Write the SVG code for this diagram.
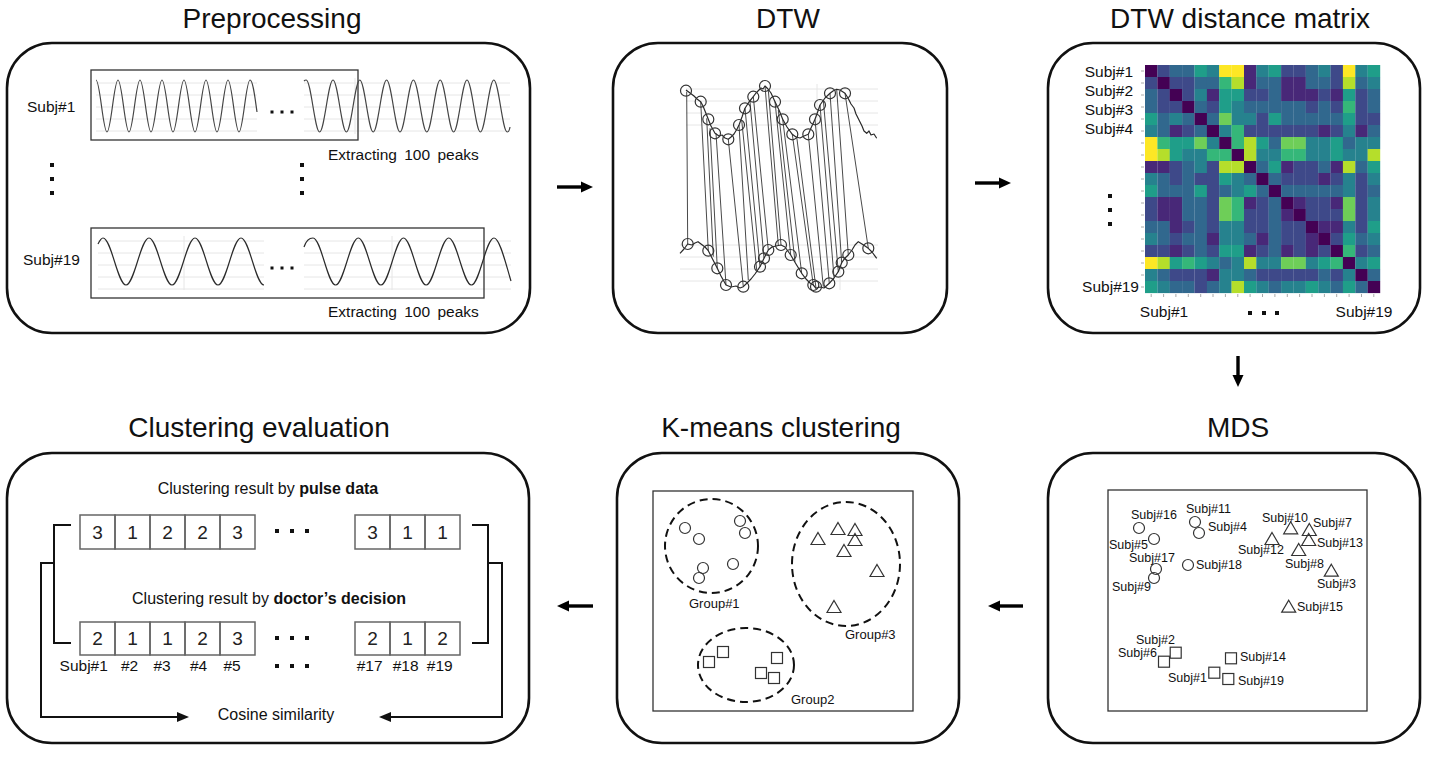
<svg xmlns="http://www.w3.org/2000/svg" xmlns:xlink="http://www.w3.org/1999/xlink" width="1429" height="758" viewBox="0 0 1429 758">
<style>
.t{font-family:"Liberation Sans",Arial,Helvetica,sans-serif;fill:#111}
.ttl{font-size:28px;text-anchor:middle}
.l15{font-size:15.5px}
.l16{font-size:16px}
.l13{font-size:13px}
.l12{font-size:12.5px}
.mid{text-anchor:middle}
.end{text-anchor:end}
.dig{font-size:19px;text-anchor:middle;fill:#222}
.panel{fill:#fff;stroke:#111;stroke-width:2.6}
.wave{fill:none;stroke:#2a2a2a;stroke-width:1.2;stroke-linejoin:round}
.wv1{stroke:#444}
.grid{fill:none;stroke:#e6e6e6;stroke-width:1}
.frame{fill:none;stroke:#333;stroke-width:1.3}
.mk{fill:none;stroke:#333;stroke-width:1.2}
.dash{fill:none;stroke:#111;stroke-width:2;stroke-dasharray:8 5}
.box{fill:none;stroke:#666;stroke-width:1.5}
.arr{stroke:#000;stroke-width:3.4}
.conn{fill:none;stroke:#111;stroke-width:2}
.dl{stroke:#4a4a4a;stroke-width:1}
.tick{fill:none;stroke:#aaa;stroke-width:1}
.c0{fill:#440154}.c1{fill:#482878}.c2{fill:#3e4989}.c3{fill:#31688e}.c4{fill:#26828e}
.c5{fill:#1f9e89}.c6{fill:#35b779}.c7{fill:#6ece58}.c8{fill:#b5de2b}.c9{fill:#fde725}
</style>
<defs>
<marker id="ah" markerUnits="userSpaceOnUse" markerWidth="13" markerHeight="12" refX="2" refY="6" orient="auto"><path d="M0,0.5 L12,6 L0,11.5 Z" fill="#000"/></marker>
<marker id="ah2" markerUnits="userSpaceOnUse" markerWidth="13" markerHeight="11" refX="2" refY="5" orient="auto"><path d="M0,0 L12,5 L0,10 Z" fill="#111"/></marker>
<rect id="k" width="12.5" height="12.1"/>
<circle id="ci" r="5.5"/>
<path id="tr" d="M0,-6.5 L7,5.5 L-7,5.5 Z"/>
<rect id="sq" x="-5.5" y="-5.5" width="11" height="11"/>
</defs>
<rect width="1429" height="758" fill="#fff"/>

<g id="preprocessing">
<rect class="panel" x="7" y="43" width="523" height="290" rx="45"/>
<text class="t ttl" x="272" y="28">Preprocessing</text>
<path class="grid" d="M96,83H257M96,95H257M96,107H257M96,119H257M96,131H257M304,83H510M304,95H510M304,107H510M304,119H510M304,131H510M355,78V134"/>
<path class="grid" d="M98,241H264M98,253H264M98,265H264M98,277H264M98,289H264M304,241H511M304,253H511M304,265H511M304,277H511M304,289H511M184,236V290M392,236V290"/>
<rect class="frame" x="91" y="70" width="267" height="70"/>
<rect class="frame" x="91" y="228" width="393" height="70"/>
<path class="wave wv1" d="M96,80 C100,80 103,132 107,132 S114,80 118,80 S125,132 129,132 S136,80 140,80 S147,132 151,132 S158,80 162,80 S169,132 173,132 S180,80 184,80 S191,132 195,132 S202,80 206,80 S213,132 217,132 S224,80 228,80 S235,132 239,132 S246,80 250,80 C253,80 255,98 257,112"/>
<path class="wave wv1" d="M304,81 C305,80 305.5,80 306.2,80 C311,80 314.8,132 319.6,132 S328.2,80 333,80 S341.6,132 346.4,132 S355,80 359.8,80 S368.4,132 373.2,132 S381.8,80 386.6,80 S395.2,132 400,132 S408.6,80 413.4,80 S422,132 426.8,132 S435.4,80 440.2,80 S448.8,132 453.6,132 S462.2,80 467,80 S475.6,132 480.4,132 S489,80 493.8,80 S502.4,132 507.2,132 C508.5,132 509.5,130 510,127"/>
<path class="wave" d="M98,244 C100,240 101.5,238 103,238 C111.3,238 117.7,285 126,285 S140.7,238 149,238 S163.7,285 172,285 S186.7,238 195,238 S209.7,285 218,285 S232.7,238 241,238 S255.7,285 264,285"/>
<path class="wave" d="M304,247 C306,241 309,238 313,238 C321.1,238 327.5,285 335.6,285 S350.2,238 358.3,238 S372.8,285 380.9,285 S395.4,238 403.5,238 S418,285 426.1,285 S440.6,238 448.7,238 S463.3,285 471.4,285 S485.9,238 494,238 C500,238 506,265 511,281"/>
<g fill="#111">
<rect x="270.5" y="110.5" width="3" height="3"/><rect x="280.5" y="110.5" width="3" height="3"/><rect x="290.5" y="110.5" width="3" height="3"/>
<rect x="270.5" y="266.5" width="3" height="3"/><rect x="280.5" y="266.5" width="3" height="3"/><rect x="290.5" y="266.5" width="3" height="3"/>
<rect x="50" y="163" width="4" height="4"/><rect x="50" y="177" width="4" height="4"/><rect x="50" y="191" width="4" height="4"/>
<rect x="300" y="163" width="4" height="4"/><rect x="300" y="177" width="4" height="4"/><rect x="300" y="191" width="4" height="4"/>
</g>
<text class="t l15" x="27" y="112">Subj#1</text>
<text class="t l15" x="23" y="265">Subj#19</text>
<text class="t l15" x="328" y="160" word-spacing="3">Extracting 100 peaks</text>
<text class="t l15" x="328" y="317" word-spacing="3">Extracting 100 peaks</text>
</g>

<g id="dtw">
<rect class="panel" x="613" y="43" width="334" height="290" rx="45"/>
<text class="t ttl" x="788" y="28">DTW</text>
<path class="grid" d="M686,89H878M686,101H878M686,113H878M686,125H878M680,245H878M680,257H878M680,269H878M680,281H878M817,84V140M840,240V290"/>
<g class="dl">
<line x1="686.7" y1="91.7" x2="687.7" y2="244"/>
<line x1="700.7" y1="101.7" x2="708.3" y2="250.7"/>
<line x1="706.7" y1="118.3" x2="713.3" y2="256.7"/>
<line x1="710" y1="128.3" x2="717.3" y2="268.3"/>
<line x1="716" y1="133.3" x2="726" y2="285"/>
<line x1="728.3" y1="139.3" x2="743.3" y2="286.7"/>
<line x1="739" y1="125" x2="748.3" y2="280"/>
<line x1="741.7" y1="120" x2="756.7" y2="270"/>
<line x1="745" y1="108.3" x2="760" y2="266.7"/>
<line x1="750" y1="101.7" x2="764" y2="258.3"/>
<line x1="753.3" y1="96.7" x2="768.3" y2="250"/>
<line x1="765" y1="86" x2="778.3" y2="245"/>
<line x1="768.3" y1="90" x2="781" y2="245"/>
<line x1="775" y1="101.7" x2="790.7" y2="255"/>
<line x1="778.3" y1="110" x2="795" y2="261.7"/>
<line x1="782.7" y1="119.3" x2="801.7" y2="273.3"/>
<line x1="792.3" y1="134.3" x2="813.3" y2="285"/>
<line x1="796.7" y1="136.7" x2="816" y2="288.3"/>
<line x1="808.3" y1="134.3" x2="823.3" y2="286.7"/>
<line x1="815" y1="119.3" x2="829.3" y2="283.3"/>
<line x1="820" y1="105" x2="834" y2="277.3"/>
<line x1="823.3" y1="100" x2="838.3" y2="271.7"/>
<line x1="830" y1="93.3" x2="841.7" y2="262.7"/>
<line x1="836.7" y1="89.3" x2="848.3" y2="255"/>
<line x1="845" y1="93.3" x2="868.3" y2="248.3"/>
</g>
<polyline class="wave" points="686,90 690,93 694,96 697,99 700.7,101.7 703,106 705,111 708.3,119.3 711,126 715,133.3 719,136 722,135 725,138 728.3,139.3 731,137 734,134 737,129 739,125 742,117 745,108.3 749,102 753.3,96.7 756,93 759,90 761,88 763,89 765,86 768,89 771,93 775,101.7 779,110 782.7,119.3 787,127 792.3,134.3 796,137 800,138 804,136 808.3,134.3 811,128 815,119.3 818,111 820,105 825,98 830,93.3 833,91 836.7,89.3 840,90 845,93.3 848,98 851,104 854,108 856,114 859,120 862,126 864,131 866.7,133.3 869,131 871,135 874,134 876.7,138.3"/>
<polyline class="wave" points="680,253.3 684,249 687.7,244 692,245 695,243 698,241.7 701,244 705,247 708.3,250.7 712,258 717.3,268.3 721,276 726,285 731,287 736,286 740,288 743.3,286.7 747,283 751,279 755,274 760,266.7 764,258.3 768.3,250 772,247 776,246 781,245 785,247 790.7,255 796,264 801.7,273.3 806,279 810,283 813.3,285 816,288.3 820,287 824,288 829.3,283.3 834,278 838.3,271.7 841.7,262.7 845,258 848.3,255 852,250 855,245 858.3,241.7 862,244 865,246 868.3,248.3 872,252 876.7,258.3"/>
<g class="mk">
<use href="#ci" x="686" y="90.7"/><use href="#ci" x="700.7" y="101.7"/><use href="#ci" x="708.3" y="119.3"/><use href="#ci" x="715" y="133.3"/><use href="#ci" x="728.3" y="139.3"/><use href="#ci" x="739" y="125"/><use href="#ci" x="745" y="108.3"/><use href="#ci" x="753.3" y="96.7"/><use href="#ci" x="765" y="86"/><use href="#ci" x="775" y="101.7"/><use href="#ci" x="782.7" y="119.3"/><use href="#ci" x="792.3" y="134.3"/><use href="#ci" x="808.3" y="134.3"/><use href="#ci" x="815" y="119.3"/><use href="#ci" x="820" y="105"/><use href="#ci" x="830" y="93.3"/><use href="#ci" x="845" y="93.3"/>
<use href="#ci" x="687.7" y="244"/><use href="#ci" x="708.3" y="250.7"/><use href="#ci" x="717.3" y="268.3"/><use href="#ci" x="726" y="285"/><use href="#ci" x="743.3" y="286.7"/><use href="#ci" x="760" y="266.7"/><use href="#ci" x="764" y="258.3"/><use href="#ci" x="768.3" y="250"/><use href="#ci" x="781" y="245"/><use href="#ci" x="790.7" y="255"/><use href="#ci" x="801.7" y="273.3"/><use href="#ci" x="813.3" y="285"/><use href="#ci" x="816" y="286.7"/><use href="#ci" x="829.3" y="283.3"/><use href="#ci" x="838.3" y="271.7"/><use href="#ci" x="841.7" y="262.7"/><use href="#ci" x="848.3" y="255"/><use href="#ci" x="868.3" y="248.3"/>
</g>
</g>

<g id="dtw-matrix">
<rect class="panel" x="1048" y="43" width="372" height="290" rx="45"/>
<text class="t ttl" x="1240" y="28">DTW distance matrix</text>
<g transform="translate(1145,65)">
<g><use href="#k" x="0" class="c0"/><use href="#k" x="12.4" class="c2"/><use href="#k" x="24.7" class="c3"/><use href="#k" x="37.1" class="c3"/><use href="#k" x="49.5" class="c5"/><use href="#k" x="61.9" class="c4"/><use href="#k" x="74.2" class="c9"/><use href="#k" x="86.6" class="c9"/><use href="#k" x="99" class="c1"/><use href="#k" x="111.3" class="c4"/><use href="#k" x="123.7" class="c5"/><use href="#k" x="136.1" class="c2"/><use href="#k" x="148.4" class="c2"/><use href="#k" x="160.8" class="c3"/><use href="#k" x="173.2" class="c4"/><use href="#k" x="185.6" class="c2"/><use href="#k" x="197.9" class="c9"/><use href="#k" x="210.3" class="c4"/><use href="#k" x="222.7" class="c5"/></g>
<g transform="translate(0,12)"><use href="#k" x="0" class="c2"/><use href="#k" x="12.4" class="c0"/><use href="#k" x="24.7" class="c2"/><use href="#k" x="37.1" class="c2"/><use href="#k" x="49.5" class="c3"/><use href="#k" x="61.9" class="c3"/><use href="#k" x="74.2" class="c6"/><use href="#k" x="86.6" class="c8"/><use href="#k" x="99" class="c1"/><use href="#k" x="111.3" class="c3"/><use href="#k" x="123.7" class="c3"/><use href="#k" x="136.1" class="c1"/><use href="#k" x="148.4" class="c1"/><use href="#k" x="160.8" class="c3"/><use href="#k" x="173.2" class="c3"/><use href="#k" x="185.6" class="c2"/><use href="#k" x="197.9" class="c8"/><use href="#k" x="210.3" class="c3"/><use href="#k" x="222.7" class="c4"/></g>
<g transform="translate(0,24)"><use href="#k" x="0" class="c3"/><use href="#k" x="12.4" class="c2"/><use href="#k" x="24.7" class="c0"/><use href="#k" x="37.1" class="c2"/><use href="#k" x="49.5" class="c4"/><use href="#k" x="61.9" class="c1"/><use href="#k" x="74.2" class="c5"/><use href="#k" x="86.6" class="c5"/><use href="#k" x="99" class="c2"/><use href="#k" x="111.3" class="c2"/><use href="#k" x="123.7" class="c3"/><use href="#k" x="136.1" class="c1"/><use href="#k" x="148.4" class="c1"/><use href="#k" x="160.8" class="c1"/><use href="#k" x="173.2" class="c2"/><use href="#k" x="185.6" class="c1"/><use href="#k" x="197.9" class="c5"/><use href="#k" x="210.3" class="c2"/><use href="#k" x="222.7" class="c3"/></g>
<g transform="translate(0,36)"><use href="#k" x="0" class="c3"/><use href="#k" x="12.4" class="c2"/><use href="#k" x="24.7" class="c2"/><use href="#k" x="37.1" class="c0"/><use href="#k" x="49.5" class="c3"/><use href="#k" x="61.9" class="c2"/><use href="#k" x="74.2" class="c5"/><use href="#k" x="86.6" class="c4"/><use href="#k" x="99" class="c3"/><use href="#k" x="111.3" class="c3"/><use href="#k" x="123.7" class="c3"/><use href="#k" x="136.1" class="c3"/><use href="#k" x="148.4" class="c3"/><use href="#k" x="160.8" class="c2"/><use href="#k" x="173.2" class="c3"/><use href="#k" x="185.6" class="c2"/><use href="#k" x="197.9" class="c6"/><use href="#k" x="210.3" class="c2"/><use href="#k" x="222.7" class="c3"/></g>
<g transform="translate(0,48)"><use href="#k" x="0" class="c5"/><use href="#k" x="12.4" class="c3"/><use href="#k" x="24.7" class="c4"/><use href="#k" x="37.1" class="c3"/><use href="#k" x="49.5" class="c0"/><use href="#k" x="61.9" class="c3"/><use href="#k" x="74.2" class="c7"/><use href="#k" x="86.6" class="c4"/><use href="#k" x="99" class="c4"/><use href="#k" x="111.3" class="c2"/><use href="#k" x="123.7" class="c5"/><use href="#k" x="136.1" class="c3"/><use href="#k" x="148.4" class="c3"/><use href="#k" x="160.8" class="c3"/><use href="#k" x="173.2" class="c3"/><use href="#k" x="185.6" class="c3"/><use href="#k" x="197.9" class="c5"/><use href="#k" x="210.3" class="c2"/><use href="#k" x="222.7" class="c2"/></g>
<g transform="translate(0,60)"><use href="#k" x="0" class="c4"/><use href="#k" x="12.4" class="c3"/><use href="#k" x="24.7" class="c1"/><use href="#k" x="37.1" class="c2"/><use href="#k" x="49.5" class="c3"/><use href="#k" x="61.9" class="c0"/><use href="#k" x="74.2" class="c4"/><use href="#k" x="86.6" class="c6"/><use href="#k" x="99" class="c2"/><use href="#k" x="111.3" class="c2"/><use href="#k" x="123.7" class="c2"/><use href="#k" x="136.1" class="c2"/><use href="#k" x="148.4" class="c2"/><use href="#k" x="160.8" class="c2"/><use href="#k" x="173.2" class="c1"/><use href="#k" x="185.6" class="c2"/><use href="#k" x="197.9" class="c4"/><use href="#k" x="210.3" class="c1"/><use href="#k" x="222.7" class="c3"/></g>
<g transform="translate(0,72)"><use href="#k" x="0" class="c9"/><use href="#k" x="12.4" class="c6"/><use href="#k" x="24.7" class="c5"/><use href="#k" x="37.1" class="c5"/><use href="#k" x="49.5" class="c7"/><use href="#k" x="61.9" class="c4"/><use href="#k" x="74.2" class="c0"/><use href="#k" x="86.6" class="c6"/><use href="#k" x="99" class="c8"/><use href="#k" x="111.3" class="c5"/><use href="#k" x="123.7" class="c3"/><use href="#k" x="136.1" class="c7"/><use href="#k" x="148.4" class="c7"/><use href="#k" x="160.8" class="c4"/><use href="#k" x="173.2" class="c4"/><use href="#k" x="185.6" class="c5"/><use href="#k" x="197.9" class="c3"/><use href="#k" x="210.3" class="c4"/><use href="#k" x="222.7" class="c4"/></g>
<g transform="translate(0,84)"><use href="#k" x="0" class="c9"/><use href="#k" x="12.4" class="c8"/><use href="#k" x="24.7" class="c5"/><use href="#k" x="37.1" class="c4"/><use href="#k" x="49.5" class="c4"/><use href="#k" x="61.9" class="c6"/><use href="#k" x="74.2" class="c6"/><use href="#k" x="86.6" class="c0"/><use href="#k" x="99" class="c8"/><use href="#k" x="111.3" class="c4"/><use href="#k" x="123.7" class="c4"/><use href="#k" x="136.1" class="c6"/><use href="#k" x="148.4" class="c6"/><use href="#k" x="160.8" class="c4"/><use href="#k" x="173.2" class="c4"/><use href="#k" x="185.6" class="c5"/><use href="#k" x="197.9" class="c4"/><use href="#k" x="210.3" class="c4"/><use href="#k" x="222.7" class="c8"/></g>
<g transform="translate(0,96)"><use href="#k" x="0" class="c1"/><use href="#k" x="12.4" class="c1"/><use href="#k" x="24.7" class="c2"/><use href="#k" x="37.1" class="c3"/><use href="#k" x="49.5" class="c4"/><use href="#k" x="61.9" class="c2"/><use href="#k" x="74.2" class="c8"/><use href="#k" x="86.6" class="c8"/><use href="#k" x="99" class="c0"/><use href="#k" x="111.3" class="c3"/><use href="#k" x="123.7" class="c5"/><use href="#k" x="136.1" class="c1"/><use href="#k" x="148.4" class="c2"/><use href="#k" x="160.8" class="c2"/><use href="#k" x="173.2" class="c3"/><use href="#k" x="185.6" class="c1"/><use href="#k" x="197.9" class="c8"/><use href="#k" x="210.3" class="c3"/><use href="#k" x="222.7" class="c5"/></g>
<g transform="translate(0,108)"><use href="#k" x="0" class="c4"/><use href="#k" x="12.4" class="c3"/><use href="#k" x="24.7" class="c2"/><use href="#k" x="37.1" class="c3"/><use href="#k" x="49.5" class="c2"/><use href="#k" x="61.9" class="c2"/><use href="#k" x="74.2" class="c5"/><use href="#k" x="86.6" class="c4"/><use href="#k" x="99" class="c3"/><use href="#k" x="111.3" class="c0"/><use href="#k" x="123.7" class="c3"/><use href="#k" x="136.1" class="c2"/><use href="#k" x="148.4" class="c2"/><use href="#k" x="160.8" class="c2"/><use href="#k" x="173.2" class="c1"/><use href="#k" x="185.6" class="c2"/><use href="#k" x="197.9" class="c4"/><use href="#k" x="210.3" class="c2"/><use href="#k" x="222.7" class="c4"/></g>
<g transform="translate(0,120)"><use href="#k" x="0" class="c5"/><use href="#k" x="12.4" class="c3"/><use href="#k" x="24.7" class="c3"/><use href="#k" x="37.1" class="c3"/><use href="#k" x="49.5" class="c5"/><use href="#k" x="61.9" class="c2"/><use href="#k" x="74.2" class="c3"/><use href="#k" x="86.6" class="c4"/><use href="#k" x="99" class="c5"/><use href="#k" x="111.3" class="c3"/><use href="#k" x="123.7" class="c0"/><use href="#k" x="136.1" class="c3"/><use href="#k" x="148.4" class="c3"/><use href="#k" x="160.8" class="c3"/><use href="#k" x="173.2" class="c3"/><use href="#k" x="185.6" class="c3"/><use href="#k" x="197.9" class="c4"/><use href="#k" x="210.3" class="c2"/><use href="#k" x="222.7" class="c3"/></g>
<g transform="translate(0,132)"><use href="#k" x="0" class="c2"/><use href="#k" x="12.4" class="c1"/><use href="#k" x="24.7" class="c1"/><use href="#k" x="37.1" class="c3"/><use href="#k" x="49.5" class="c3"/><use href="#k" x="61.9" class="c2"/><use href="#k" x="74.2" class="c7"/><use href="#k" x="86.6" class="c6"/><use href="#k" x="99" class="c1"/><use href="#k" x="111.3" class="c2"/><use href="#k" x="123.7" class="c3"/><use href="#k" x="136.1" class="c0"/><use href="#k" x="148.4" class="c1"/><use href="#k" x="160.8" class="c2"/><use href="#k" x="173.2" class="c2"/><use href="#k" x="185.6" class="c1"/><use href="#k" x="197.9" class="c7"/><use href="#k" x="210.3" class="c2"/><use href="#k" x="222.7" class="c4"/></g>
<g transform="translate(0,144)"><use href="#k" x="0" class="c2"/><use href="#k" x="12.4" class="c1"/><use href="#k" x="24.7" class="c1"/><use href="#k" x="37.1" class="c3"/><use href="#k" x="49.5" class="c3"/><use href="#k" x="61.9" class="c2"/><use href="#k" x="74.2" class="c7"/><use href="#k" x="86.6" class="c6"/><use href="#k" x="99" class="c2"/><use href="#k" x="111.3" class="c2"/><use href="#k" x="123.7" class="c3"/><use href="#k" x="136.1" class="c1"/><use href="#k" x="148.4" class="c0"/><use href="#k" x="160.8" class="c2"/><use href="#k" x="173.2" class="c2"/><use href="#k" x="185.6" class="c2"/><use href="#k" x="197.9" class="c7"/><use href="#k" x="210.3" class="c2"/><use href="#k" x="222.7" class="c4"/></g>
<g transform="translate(0,156)"><use href="#k" x="0" class="c3"/><use href="#k" x="12.4" class="c3"/><use href="#k" x="24.7" class="c1"/><use href="#k" x="37.1" class="c2"/><use href="#k" x="49.5" class="c3"/><use href="#k" x="61.9" class="c2"/><use href="#k" x="74.2" class="c4"/><use href="#k" x="86.6" class="c4"/><use href="#k" x="99" class="c2"/><use href="#k" x="111.3" class="c2"/><use href="#k" x="123.7" class="c3"/><use href="#k" x="136.1" class="c2"/><use href="#k" x="148.4" class="c2"/><use href="#k" x="160.8" class="c0"/><use href="#k" x="173.2" class="c1"/><use href="#k" x="185.6" class="c1"/><use href="#k" x="197.9" class="c4"/><use href="#k" x="210.3" class="c2"/><use href="#k" x="222.7" class="c5"/></g>
<g transform="translate(0,168)"><use href="#k" x="0" class="c4"/><use href="#k" x="12.4" class="c3"/><use href="#k" x="24.7" class="c2"/><use href="#k" x="37.1" class="c3"/><use href="#k" x="49.5" class="c3"/><use href="#k" x="61.9" class="c1"/><use href="#k" x="74.2" class="c4"/><use href="#k" x="86.6" class="c4"/><use href="#k" x="99" class="c3"/><use href="#k" x="111.3" class="c1"/><use href="#k" x="123.7" class="c3"/><use href="#k" x="136.1" class="c2"/><use href="#k" x="148.4" class="c2"/><use href="#k" x="160.8" class="c1"/><use href="#k" x="173.2" class="c0"/><use href="#k" x="185.6" class="c2"/><use href="#k" x="197.9" class="c5"/><use href="#k" x="210.3" class="c3"/><use href="#k" x="222.7" class="c4"/></g>
<g transform="translate(0,180)"><use href="#k" x="0" class="c2"/><use href="#k" x="12.4" class="c2"/><use href="#k" x="24.7" class="c1"/><use href="#k" x="37.1" class="c2"/><use href="#k" x="49.5" class="c3"/><use href="#k" x="61.9" class="c2"/><use href="#k" x="74.2" class="c5"/><use href="#k" x="86.6" class="c5"/><use href="#k" x="99" class="c1"/><use href="#k" x="111.3" class="c2"/><use href="#k" x="123.7" class="c3"/><use href="#k" x="136.1" class="c1"/><use href="#k" x="148.4" class="c2"/><use href="#k" x="160.8" class="c1"/><use href="#k" x="173.2" class="c2"/><use href="#k" x="185.6" class="c0"/><use href="#k" x="197.9" class="c6"/><use href="#k" x="210.3" class="c2"/><use href="#k" x="222.7" class="c3"/></g>
<g transform="translate(0,192)"><use href="#k" x="0" class="c9"/><use href="#k" x="12.4" class="c8"/><use href="#k" x="24.7" class="c5"/><use href="#k" x="37.1" class="c6"/><use href="#k" x="49.5" class="c5"/><use href="#k" x="61.9" class="c4"/><use href="#k" x="74.2" class="c3"/><use href="#k" x="86.6" class="c4"/><use href="#k" x="99" class="c8"/><use href="#k" x="111.3" class="c4"/><use href="#k" x="123.7" class="c4"/><use href="#k" x="136.1" class="c7"/><use href="#k" x="148.4" class="c7"/><use href="#k" x="160.8" class="c4"/><use href="#k" x="173.2" class="c5"/><use href="#k" x="185.6" class="c6"/><use href="#k" x="197.9" class="c0"/><use href="#k" x="210.3" class="c4"/><use href="#k" x="222.7" class="c5"/></g>
<g transform="translate(0,204)"><use href="#k" x="0" class="c4"/><use href="#k" x="12.4" class="c3"/><use href="#k" x="24.7" class="c2"/><use href="#k" x="37.1" class="c2"/><use href="#k" x="49.5" class="c2"/><use href="#k" x="61.9" class="c1"/><use href="#k" x="74.2" class="c4"/><use href="#k" x="86.6" class="c4"/><use href="#k" x="99" class="c3"/><use href="#k" x="111.3" class="c2"/><use href="#k" x="123.7" class="c2"/><use href="#k" x="136.1" class="c2"/><use href="#k" x="148.4" class="c2"/><use href="#k" x="160.8" class="c2"/><use href="#k" x="173.2" class="c3"/><use href="#k" x="185.6" class="c2"/><use href="#k" x="197.9" class="c4"/><use href="#k" x="210.3" class="c0"/><use href="#k" x="222.7" class="c3"/></g>
<g transform="translate(0,216)"><use href="#k" x="0" class="c5"/><use href="#k" x="12.4" class="c4"/><use href="#k" x="24.7" class="c3"/><use href="#k" x="37.1" class="c3"/><use href="#k" x="49.5" class="c2"/><use href="#k" x="61.9" class="c3"/><use href="#k" x="74.2" class="c4"/><use href="#k" x="86.6" class="c8"/><use href="#k" x="99" class="c5"/><use href="#k" x="111.3" class="c4"/><use href="#k" x="123.7" class="c3"/><use href="#k" x="136.1" class="c4"/><use href="#k" x="148.4" class="c4"/><use href="#k" x="160.8" class="c5"/><use href="#k" x="173.2" class="c4"/><use href="#k" x="185.6" class="c3"/><use href="#k" x="197.9" class="c5"/><use href="#k" x="210.3" class="c3"/><use href="#k" x="222.7" class="c0"/></g>
</g>
<path class="tick" d="M1151.2,294v3M1163.6,294v3M1175.9,294v3M1188.3,294v3M1200.7,294v3M1213,294v3M1225.4,294v3M1237.8,294v3M1250.1,294v3M1262.5,294v3M1274.9,294v3M1287.3,294v3M1299.6,294v3M1312,294v3M1324.4,294v3M1336.7,294v3M1349.1,294v3M1361.5,294v3M1373.8,294v3"/>
<path class="tick" d="M1141,71h3M1141,83h3M1141,95h3M1141,107h3M1141,119h3M1141,131h3M1141,143h3M1141,155h3M1141,167h3M1141,179h3M1141,191h3M1141,203h3M1141,215h3M1141,227h3M1141,239h3M1141,251h3M1141,263h3M1141,275h3M1141,287h3"/>
<text class="t l15 end" x="1133" y="77">Subj#1</text>
<text class="t l15 end" x="1133" y="96">Subj#2</text>
<text class="t l15 end" x="1133" y="115">Subj#3</text>
<text class="t l15 end" x="1133" y="134">Subj#4</text>
<text class="t l15 end" x="1139" y="292">Subj#19</text>
<text class="t l15 mid" x="1164" y="317">Subj#1</text>
<text class="t l15 mid" x="1364" y="317">Subj#19</text>
<g fill="#111">
<rect x="1108" y="194" width="4" height="4"/><rect x="1108" y="208" width="4" height="4"/><rect x="1108" y="222" width="4" height="4"/>
<rect x="1248" y="311" width="4" height="4"/><rect x="1262" y="311" width="4" height="4"/><rect x="1275" y="311" width="4" height="4"/>
</g>
</g>

<g id="mds">
<rect class="panel" x="1048" y="453" width="372" height="290" rx="45"/>
<text class="t ttl" x="1238" y="437">MDS</text>
<rect class="frame" x="1108" y="490" width="259" height="221"/>
<g class="mk">
<use href="#ci" x="1139" y="528"/><use href="#ci" x="1154" y="539"/><use href="#ci" x="1195" y="522"/><use href="#ci" x="1199" y="533"/><use href="#ci" x="1156" y="569"/><use href="#ci" x="1154" y="578"/><use href="#ci" x="1188" y="565"/>
<use href="#tr" x="1290.7" y="528.3"/><use href="#tr" x="1309.3" y="530"/><use href="#tr" x="1308.7" y="540"/><use href="#tr" x="1272" y="539"/><use href="#tr" x="1298.7" y="550"/><use href="#tr" x="1331.3" y="570.7"/><use href="#tr" x="1288.7" y="606.7"/>
<use href="#sq" x="1175.7" y="652.7"/><use href="#sq" x="1164" y="661.7"/><use href="#sq" x="1231" y="658.3"/><use href="#sq" x="1214.3" y="672.7"/><use href="#sq" x="1228.3" y="679"/>
</g>
<g class="t l12">
<text x="1131" y="519">Subj#16</text>
<text x="1109" y="549">Subj#5</text>
<text x="1186" y="513">Subj#11</text>
<text x="1208" y="531">Subj#4</text>
<text x="1129" y="562">Subj#17</text>
<text x="1112" y="591">Subj#9</text>
<text x="1196" y="569">Subj#18</text>
<text x="1262" y="522">Subj#10</text>
<text x="1313" y="527">Subj#7</text>
<text x="1317" y="547">Subj#13</text>
<text x="1238" y="554">Subj#12</text>
<text x="1285" y="568">Subj#8</text>
<text x="1317" y="588">Subj#3</text>
<text x="1297" y="611">Subj#15</text>
<text x="1136" y="644">Subj#2</text>
<text x="1118" y="657">Subj#6</text>
<text x="1240" y="661">Subj#14</text>
<text x="1168" y="682">Subj#1</text>
<text x="1238" y="685">Subj#19</text>
</g>
</g>

<g id="kmeans">
<rect class="panel" x="617" y="453" width="342" height="290" rx="45"/>
<text class="t ttl" x="781" y="437">K-means clustering</text>
<rect class="frame" x="653" y="491" width="260" height="220"/>
<ellipse class="dash" cx="711.5" cy="546" rx="46.5" ry="47"/>
<ellipse class="dash" cx="846" cy="564" rx="54" ry="62"/>
<ellipse class="dash" cx="746" cy="665" rx="48" ry="37"/>
<g class="mk">
<use href="#ci" x="685" y="528"/><use href="#ci" x="699" y="539"/><use href="#ci" x="740" y="521"/><use href="#ci" x="745" y="533"/><use href="#ci" x="703" y="568"/><use href="#ci" x="699" y="578"/><use href="#ci" x="733" y="564"/>
<use href="#tr" x="818" y="539"/><use href="#tr" x="838" y="529"/><use href="#tr" x="855" y="530"/><use href="#tr" x="855" y="540"/><use href="#tr" x="844" y="551"/><use href="#tr" x="877" y="571"/><use href="#tr" x="834" y="607"/>
<use href="#sq" x="723" y="652"/><use href="#sq" x="709" y="662"/><use href="#sq" x="777" y="658"/><use href="#sq" x="761" y="673"/><use href="#sq" x="774" y="678"/>
</g>
<text class="t l13" x="689" y="608">Group#1</text>
<text class="t l13" x="845" y="639">Group#3</text>
<text class="t l13" x="791" y="704">Group2</text>
</g>

<g id="evaluation">
<rect class="panel" x="7" y="453" width="522" height="290" rx="45"/>
<text class="t ttl" x="259" y="437">Clustering evaluation</text>
<text class="t l16 mid" x="268" y="494">Clustering result by <tspan font-weight="bold">pulse data</tspan></text>
<text class="t l16 mid" x="269" y="604">Clustering result by <tspan font-weight="bold">doctor’s decision</tspan></text>
<g class="box">
<rect x="80" y="515" width="35" height="34"/><rect x="115" y="515" width="35" height="34"/><rect x="150" y="515" width="35" height="34"/><rect x="185" y="515" width="35" height="34"/><rect x="220" y="515" width="35" height="34"/>
<rect x="355" y="515" width="35" height="34"/><rect x="390" y="515" width="35" height="34"/><rect x="425" y="515" width="35" height="34"/>
<rect x="80" y="622" width="35" height="33"/><rect x="115" y="622" width="35" height="33"/><rect x="150" y="622" width="35" height="33"/><rect x="185" y="622" width="35" height="33"/><rect x="220" y="622" width="35" height="33"/>
<rect x="355" y="622" width="35" height="33"/><rect x="390" y="622" width="35" height="33"/><rect x="425" y="622" width="35" height="33"/>
</g>
<g class="t dig">
<text x="97.5" y="539">3</text><text x="132.5" y="539">1</text><text x="167.5" y="539">2</text><text x="202.5" y="539">2</text><text x="237.5" y="539">3</text>
<text x="372.5" y="539">3</text><text x="407.5" y="539">1</text><text x="442.5" y="539">1</text>
<text x="97.5" y="645">2</text><text x="132.5" y="645">1</text><text x="167.5" y="645">1</text><text x="202.5" y="645">2</text><text x="237.5" y="645">3</text>
<text x="372.5" y="645">2</text><text x="407.5" y="645">1</text><text x="442.5" y="645">2</text>
</g>
<g class="t l15 mid">
<text x="83.7" y="671">Subj#1</text><text x="129.6" y="671">#2</text><text x="162" y="671">#3</text><text x="198.5" y="671">#4</text><text x="232" y="671">#5</text>
<text x="369.7" y="671">#17</text><text x="405.6" y="671">#18</text><text x="439.8" y="671">#19</text>
</g>
<g fill="#111">
<rect x="275" y="529" width="4" height="4"/><rect x="290" y="529" width="4" height="4"/><rect x="305" y="529" width="4" height="4"/>
<rect x="275" y="636" width="4" height="4"/><rect x="290" y="636" width="4" height="4"/><rect x="305" y="636" width="4" height="4"/>
<rect x="275" y="664" width="4" height="4"/><rect x="290" y="664" width="4" height="4"/><rect x="305" y="664" width="4" height="4"/>
</g>
<polyline class="conn" points="71,525 54,525 54,643 71,643"/>
<polyline class="conn" points="472,525 488,525 488,643 472,643"/>
<polyline class="conn" points="54,563 41,563 41,717 179,717" marker-end="url(#ah2)"/>
<polyline class="conn" points="488,563 502,563 502,717 389,717" marker-end="url(#ah2)"/>
<text class="t l16 mid" x="276" y="720">Cosine similarity</text>
</g>

<g id="connectors">
<line class="arr" x1="557" y1="187" x2="583" y2="187" marker-end="url(#ah)"/>
<line class="arr" x1="975" y1="183" x2="1001" y2="183" marker-end="url(#ah)"/>
<line class="arr" x1="1238" y1="356" x2="1238" y2="377" marker-end="url(#ah)"/>
<line class="arr" x1="1023" y1="606" x2="998" y2="606" marker-end="url(#ah)"/>
<line class="arr" x1="593" y1="606" x2="567" y2="606" marker-end="url(#ah)"/>
</g>
</svg>
